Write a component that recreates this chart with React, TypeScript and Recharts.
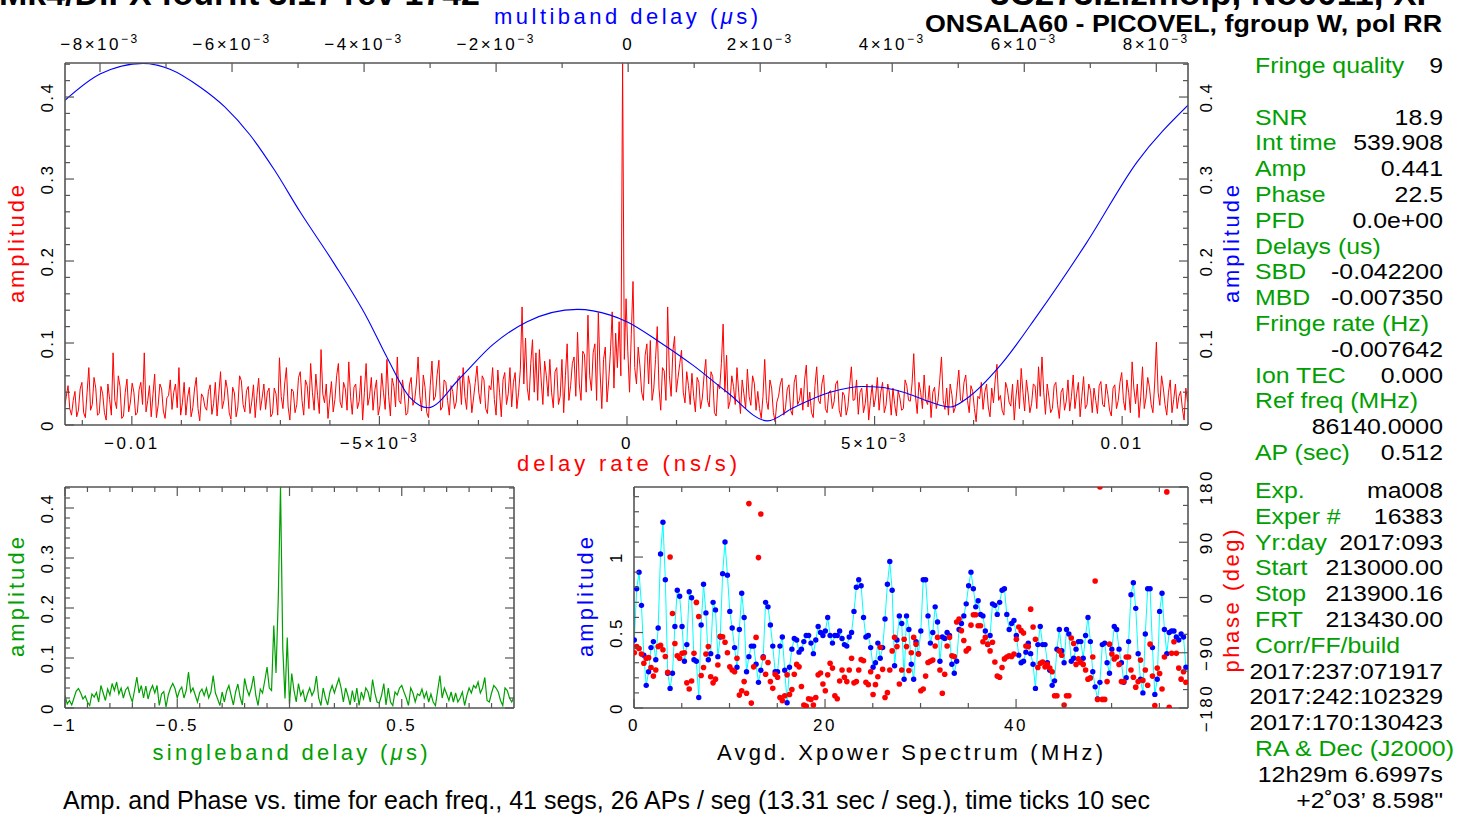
import React from "react";
import { Line, LineChart, XAxis, YAxis } from "recharts";

const FONT = "'Liberation Sans', Arial, Helvetica, sans-serif";
const RED = "#ff0000";
const BLUE = "#0000ff";
const GREEN = "#00a000";
const CYAN = "#00ffff";
const FRAME = "#555555";
const MAJOR = 9;
const MINOR = 5;

// ---- delay rate spectrum (ns/s), sampled on a uniform grid ----
const rateStart = -0.0113587;
const rateStep = 0.000035;
const rateAmp = [
  0.022, 0.035, 0.048, 0.020, 0.012, 0.030, 0.041, 0.010, 0.018, 0.044, 0.052, 0.015, 0.009, 0.040, 0.070, 0.018, 0.025, 0.058, 0.045, 0.012,
  0.014, 0.047, 0.038, 0.015, 0.006, 0.050, 0.031, 0.012, 0.088, 0.030, 0.020, 0.060, 0.047, 0.008, 0.011, 0.040, 0.056, 0.016, 0.028, 0.051,
  0.040, 0.012, 0.015, 0.043, 0.052, 0.025, 0.088, 0.016, 0.030, 0.048, 0.010, 0.037, 0.062, 0.009, 0.024, 0.050, 0.044, 0.017, 0.008, 0.033,
  0.036, 0.055, 0.019, 0.040, 0.050, 0.021, 0.070, 0.012, 0.027, 0.052, 0.012, 0.034, 0.046, 0.010, 0.021, 0.044, 0.058, 0.020, 0.005, 0.038,
  0.034, 0.022, 0.018, 0.041, 0.049, 0.013, 0.026, 0.052, 0.011, 0.038, 0.065, 0.020, 0.030, 0.055, 0.043, 0.015, 0.007, 0.046, 0.039, 0.010,
  0.022, 0.060, 0.054, 0.025, 0.016, 0.042, 0.047, 0.014, 0.028, 0.049, 0.009, 0.036, 0.057, 0.018, 0.033, 0.050, 0.019, 0.040, 0.045, 0.010,
  0.014, 0.045, 0.038, 0.012, 0.082, 0.035, 0.020, 0.050, 0.070, 0.022, 0.006, 0.044, 0.041, 0.015, 0.025, 0.058, 0.065, 0.030, 0.012, 0.055,
  0.048, 0.020, 0.075, 0.040, 0.018, 0.062, 0.036, 0.014, 0.092, 0.038, 0.027, 0.050, 0.008, 0.032, 0.053, 0.016, 0.031, 0.060, 0.075, 0.028,
  0.021, 0.052, 0.044, 0.018, 0.077, 0.035, 0.013, 0.046, 0.050, 0.020, 0.029, 0.060, 0.006, 0.040, 0.075, 0.024, 0.035, 0.058, 0.018, 0.042,
  0.055, 0.012, 0.024, 0.063, 0.040, 0.019, 0.080, 0.035, 0.011, 0.057, 0.047, 0.022, 0.083, 0.030, 0.026, 0.055, 0.038, 0.012, 0.015, 0.049,
  0.058, 0.024, 0.030, 0.050, 0.083, 0.036, 0.017, 0.061, 0.046, 0.015, 0.009, 0.048, 0.078, 0.030, 0.035, 0.062, 0.079, 0.018, 0.022, 0.055,
  0.052, 0.030, 0.012, 0.048, 0.041, 0.020, 0.028, 0.058, 0.060, 0.025, 0.070, 0.035, 0.019, 0.060, 0.049, 0.015, 0.033, 0.052, 0.072, 0.040,
  0.026, 0.060, 0.055, 0.020, 0.014, 0.048, 0.043, 0.070, 0.031, 0.012, 0.067, 0.040, 0.010, 0.055, 0.064, 0.025, 0.038, 0.070, 0.022, 0.052,
  0.064, 0.020, 0.040, 0.068, 0.144, 0.050, 0.106, 0.045, 0.030, 0.075, 0.104, 0.040, 0.088, 0.030, 0.092, 0.055, 0.025, 0.078, 0.060, 0.035,
  0.080, 0.040, 0.021, 0.065, 0.070, 0.025, 0.035, 0.080, 0.015, 0.060, 0.099, 0.030, 0.048, 0.075, 0.083, 0.035, 0.113, 0.050, 0.030, 0.090,
  0.086, 0.040, 0.134, 0.060, 0.042, 0.088, 0.099, 0.030, 0.137, 0.065, 0.020, 0.080, 0.095, 0.028, 0.055, 0.090, 0.138, 0.045, 0.112, 0.070,
  0.126, 0.060, 0.441, 0.080, 0.154, 0.090, 0.040, 0.110, 0.175, 0.070, 0.050, 0.095, 0.072, 0.040, 0.030, 0.085, 0.099, 0.050, 0.103, 0.030,
  0.045, 0.080, 0.120, 0.045, 0.018, 0.070, 0.066, 0.030, 0.144, 0.060, 0.035, 0.090, 0.108, 0.040, 0.058, 0.075, 0.091, 0.040, 0.027, 0.065,
  0.048, 0.025, 0.063, 0.035, 0.016, 0.058, 0.052, 0.020, 0.033, 0.060, 0.080, 0.030, 0.022, 0.065, 0.059, 0.015, 0.011, 0.050, 0.044, 0.075,
  0.123, 0.040, 0.085, 0.020, 0.029, 0.060, 0.047, 0.025, 0.070, 0.040, 0.014, 0.055, 0.038, 0.020, 0.068, 0.035, 0.024, 0.060, 0.051, 0.018,
  0.041, 0.020, 0.008, 0.035, 0.080, 0.030, 0.019, 0.055, 0.045, 0.015, 0.004, 0.028, 0.035, 0.050, 0.057, 0.012, 0.021, 0.044, 0.049, 0.018,
  0.012, 0.052, 0.061, 0.025, 0.030, 0.045, 0.018, 0.055, 0.073, 0.022, 0.040, 0.015, 0.009, 0.048, 0.071, 0.030, 0.026, 0.050, 0.061, 0.020,
  0.015, 0.040, 0.042, 0.020, 0.028, 0.050, 0.054, 0.018, 0.010, 0.040, 0.036, 0.012, 0.022, 0.048, 0.071, 0.030, 0.031, 0.055, 0.013, 0.040,
  0.045, 0.015, 0.026, 0.050, 0.006, 0.030, 0.049, 0.022, 0.034, 0.058, 0.018, 0.040, 0.052, 0.015, 0.024, 0.050, 0.039, 0.012, 0.045, 0.025,
  0.011, 0.042, 0.033, 0.018, 0.020, 0.055, 0.048, 0.030, 0.029, 0.050, 0.087, 0.035, 0.014, 0.052, 0.040, 0.020, 0.061, 0.030, 0.025, 0.048,
  0.009, 0.040, 0.046, 0.020, 0.030, 0.055, 0.083, 0.030, 0.019, 0.045, 0.012, 0.050, 0.037, 0.015, 0.022, 0.045, 0.067, 0.030, 0.028, 0.052,
  0.061, 0.030, 0.015, 0.048, 0.041, 0.020, 0.004, 0.035, 0.032, 0.052, 0.019, 0.040, 0.050, 0.022, 0.010, 0.045, 0.027, 0.055, 0.074, 0.030,
  0.036, 0.018, 0.012, 0.052, 0.044, 0.028, 0.023, 0.050, 0.006, 0.035, 0.055, 0.020, 0.069, 0.040, 0.017, 0.055, 0.038, 0.015, 0.026, 0.050,
  0.048, 0.020, 0.071, 0.035, 0.083, 0.040, 0.013, 0.050, 0.034, 0.015, 0.020, 0.048, 0.052, 0.025, 0.008, 0.040, 0.045, 0.018, 0.029, 0.055,
  0.017, 0.035, 0.061, 0.020, 0.038, 0.052, 0.010, 0.035, 0.059, 0.020, 0.025, 0.050, 0.042, 0.015, 0.045, 0.030, 0.014, 0.048, 0.053, 0.025,
  0.022, 0.050, 0.037, 0.018, 0.011, 0.045, 0.049, 0.020, 0.030, 0.052, 0.064, 0.030, 0.018, 0.055, 0.040, 0.015, 0.077, 0.045, 0.026, 0.050,
  0.009, 0.035, 0.071, 0.020, 0.033, 0.058, 0.046, 0.025, 0.015, 0.050, 0.101, 0.040, 0.024, 0.060, 0.045, 0.025, 0.012, 0.040, 0.055, 0.015,
  0.031, 0.050, 0.020, 0.035, 0.041, 0.020, 0.006, 0.045, 0.028,
];

// ---- multiband delay (us) ----
const mbdDelay = [
  -0.00853, -0.008, -0.00735, -0.00694, -0.00648, -0.00611, -0.00573, -0.00535, -0.00497, -0.00447,
  -0.00395, -0.00365, -0.0033, -0.00303, -0.00255, -0.00205, -0.00153, -0.00077, -0.00027, -0.00002,
  0.00048, 0.00098, 0.0015, 0.00211, 0.0025, 0.00306, 0.00356, 0.00382, 0.00417, 0.00458,
  0.00488, 0.00514, 0.00564, 0.0062, 0.00695, 0.00771, 0.00848,
];
const mbdAmp = [
  0.396, 0.428, 0.441, 0.434, 0.412, 0.388, 0.354, 0.31, 0.26, 0.199,
  0.13, 0.082, 0.033, 0.021, 0.057, 0.098, 0.126, 0.141, 0.134, 0.126,
  0.101, 0.073, 0.04, 0.005, 0.021, 0.04, 0.047, 0.046, 0.04, 0.028,
  0.022, 0.033, 0.073, 0.134, 0.223, 0.321, 0.39,
];

// ---- singleband delay (us) ----
const sbdStart = -1;
const sbdStep = 0.01;
const sbdAmp = [
  0.025, 0.008, 0.015, 0.006, 0.020, 0.034, 0.039, 0.030, 0.018, 0.024,
  0.012, 0.005, 0.028, 0.022, 0.031, 0.012, 0.045, 0.030, 0.015, 0.038,
  0.026, 0.049, 0.035, 0.052, 0.028, 0.040, 0.020, 0.036, 0.042, 0.025,
  0.012, 0.036, 0.062, 0.030, 0.045, 0.020, 0.044, 0.018, 0.035, 0.045,
  0.030, 0.045, 0.005, 0.028, 0.033, 0.002, 0.026, 0.040, 0.049, 0.039,
  0.020, 0.035, 0.042, 0.020, 0.035, 0.072, 0.032, 0.040, 0.026, 0.012,
  0.031, 0.038, 0.025, 0.040, 0.020, 0.032, 0.065, 0.030, 0.018, 0.005,
  0.032, 0.012, 0.034, 0.045, 0.025, 0.006, 0.032, 0.048, 0.022, 0.006,
  0.059, 0.038, 0.025, 0.040, 0.064, 0.025, 0.005, 0.038, 0.030, 0.055,
  0.082, 0.040, 0.035, 0.165, 0.070, 0.220, 0.442, 0.120, 0.019, 0.141,
  0.008, 0.069, 0.035, 0.012, 0.049, 0.025, 0.035, 0.012, 0.028, 0.040,
  0.025, 0.035, 0.064, 0.020, 0.005, 0.040, 0.020, 0.006, 0.032, 0.045,
  0.030, 0.045, 0.059, 0.040, 0.012, 0.040, 0.025, 0.006, 0.035, 0.012,
  0.040, 0.005, 0.032, 0.018, 0.040, 0.032, 0.012, 0.057, 0.030, 0.012,
  0.010, 0.025, 0.049, 0.006, 0.040, 0.012, 0.005, 0.032, 0.026, 0.040,
  0.045, 0.032, 0.020, 0.005, 0.040, 0.030, 0.012, 0.028, 0.025, 0.038,
  0.020, 0.032, 0.012, 0.028, 0.012, 0.005, 0.035, 0.065, 0.020, 0.040,
  0.028, 0.015, 0.032, 0.012, 0.030, 0.012, 0.020, 0.032, 0.005, 0.025,
  0.040, 0.030, 0.045, 0.040, 0.052, 0.030, 0.040, 0.061, 0.015, 0.012,
  0.030, 0.045, 0.040, 0.032, 0.015, 0.005, 0.040, 0.035, 0.020, 0.012,
  0.022,
];

// ---- averaged cross-power spectrum (MHz) ----
const freqStart = 0.03;
const freqStep = 0.25;
const xpAmp = [
  0.45, 0.79, 0.90, 0.68, 0.35, 0.15, 0.24, 0.40, 0.44, 0.32,
  0.53, 1.02, 1.23, 0.85, 0.23, 0.13, 0.23, 0.54, 0.78, 0.74,
  0.54, 0.31, 0.42, 0.77, 0.73, 0.32, 0.31, 0.07, 0.55, 0.82,
  0.63, 0.32, 0.36, 0.70, 0.65, 0.34, 0.47, 0.89, 1.10, 0.88,
  0.64, 0.53, 0.40, 0.27, 0.52, 0.76, 0.60, 0.24, 0.34, 0.41,
  0.41, 0.29, 0.17, 0.25, 0.34, 0.70, 0.67, 0.55, 0.41, 0.24,
  0.24, 0.41, 0.47, 0.25, 0.035, 0.27, 0.39, 0.46, 0.45, 0.37,
  0.39, 0.44, 0.48, 0.48, 0.43, 0.36, 0.45, 0.54, 0.50, 0.48,
  0.51, 0.60, 0.48, 0.43, 0.48, 0.48, 0.51, 0.46, 0.42, 0.41,
  0.47, 0.50, 0.64, 0.80, 0.85, 0.81, 0.60, 0.47, 0.48, 0.40,
  0.27, 0.30, 0.43, 0.33, 0.40, 0.59, 0.82, 0.97, 0.78, 0.28,
  0.45, 0.61, 0.56, 0.19,
  0.61, 0.52, 0.29, 0.19, 0.44, 0.36, 0.51, 0.85, 0.85, 0.61,
  0.43, 0.50, 0.67, 0.57, 0.31, 0.47, 0.46, 0.50, 0.48, 0.29,
  0.23, 0.31, 0.52, 0.56, 0.61, 0.69, 0.81, 0.90, 0.79, 0.67,
  0.71, 0.62, 0.61, 0.51, 0.42, 0.48, 0.69, 0.68, 0.62, 0.70,
  0.78, 0.79, 0.62, 0.52, 0.56, 0.58, 0.48, 0.35, 0.30, 0.31,
  0.37, 0.43, 0.36, 0.29, 0.13, 0.42, 0.54, 0.42, 0.42, 0.30,
  0.25, 0.15, 0.18, 0.39, 0.52, 0.38, 0.30, 0.52, 0.49, 0.31,
  0.33, 0.39, 0.44, 0.44, 0.33, 0.48, 0.60, 0.44, 0.24, 0.14,
  0.06, 0.17, 0.42, 0.43, 0.30, 0.23, 0.39, 0.54, 0.52, 0.39,
  0.30, 0.17, 0.20, 0.44, 0.75, 0.83, 0.66, 0.36, 0.19, 0.10,
  0.49, 0.79, 0.79, 0.40, 0.09, 0.19, 0.64, 0.76, 0.52, 0.36,
  0.50, 0.51, 0.51, 0.47, 0.45, 0.49, 0.47, 0.27,
];
const xpPhase = [
  -90, -80, -83, -92, -107, -99, -98, -114, -128, -118,
  -80, -78, -85, -96, -122, 66, -26, -75, -95, -99,
  -91, -90, -139, -149, -136, -91, -8, -31, -127, -114,
  -92, -80, -129, -139, -133, -110, -63, -64, -73, -90,
  -113, -118, -121, -99, -159, -152, -137, -156, 153, -172,
  -113, -65, 65, 136, -98, -125, -106, -137, -148, -125,
  -130, -163, -168, -160, -126, -158, -150, -125, -109, -113,
  -145, -175, -177, -165, -166, -175, -163, -126, -123, -141,
  -152, -126, -107, -115, -160, -165, -136, -118, -130, -137,
  -118, -99, -139, -137, -118, -101, -103, -138, -142, -121,
  -158, -142, -129, -81, -117, -163, -155, -118, -87, -65,
  -80, -141, -118, -68,
  -80, -119, -90, -65, -76, -92, -152, -149, -128, -106,
  -104, -102, -79, -65, -118, -156, -125, -79, -65, -95,
  -96, -40, -35, -54, -70, -87, -83, -45, -28, -28,
  -46, -46, -72, -65, -76, -87, -73, -105, -128, -130,
  -114, -100, -97, -95, -96, -92, -68, -48, -54, -58,
  -79, -80, -19, -48, -68, -114, -107, -105, -113, -109,
  -115, -121, -160, -160, -87, -94, -175, -160, -160, -66,
  -75, -109, -100, -106, -109, -118, -133, -131, -97, 27,
  -166, 180, -166, -166, -137, -76, -92, -100, -97, -109,
  -137, -137, -97, -97, -118, -130, -146, -137, -102, -135,
  -118, -143, -76, -128, -176, -115, -124, -149, -97, 172,
  -179, -91, -72, -91, -115, -133, -121, -138,
];

// ---- axis ticks ----
const rateTicks = [-0.011, -0.01, -0.009, -0.008, -0.007, -0.006, -0.005, -0.004, -0.003, -0.002, -0.001, 0, 0.001, 0.002, 0.003, 0.004, 0.005, 0.006, 0.007, 0.008, 0.009, 0.01, 0.011];
const rateMajor = [-0.01, -0.005, 0, 0.005, 0.01];
const mbdTicks = [-0.008, -0.007, -0.006, -0.005, -0.004, -0.003, -0.002, -0.001, 0, 0.001, 0.002, 0.003, 0.004, 0.005, 0.006, 0.007, 0.008];
const mbdMajor = [-0.008, -0.006, -0.004, -0.002, 0, 0.002, 0.004, 0.006, 0.008];
const ampTicks = [0, 0.02, 0.04, 0.06, 0.08, 0.1, 0.12, 0.14, 0.16, 0.18, 0.2, 0.22, 0.24, 0.26, 0.28, 0.3, 0.32, 0.34, 0.36, 0.38, 0.4, 0.42, 0.44];
const ampMajor = [0, 0.1, 0.2, 0.3, 0.4];
const sbdTicks = [-1, -0.9, -0.8, -0.7, -0.6, -0.5, -0.4, -0.3, -0.2, -0.1, 0, 0.1, 0.2, 0.3, 0.4, 0.5, 0.6, 0.7, 0.8, 0.9];
const sbdMajor = [-1, -0.5, 0, 0.5];
const freqTicks = [0, 5, 10, 15, 20, 25, 30, 35, 40, 45, 50, 55];
const freqMajor = [0, 20, 40];
const xpAmpTicks = [0, 0.1, 0.2, 0.3, 0.4, 0.5, 0.6, 0.7, 0.8, 0.9, 1, 1.1, 1.2, 1.3, 1.4];
const xpAmpMajor = [0, 0.5, 1];
const phaseTicks = [-180, -150, -120, -90, -60, -30, 0, 30, 60, 90, 120, 150, 180];
const phaseMajor = [-180, -90, 0, 90, 180];

const rateData = rateAmp.map((amp, i) => ({ x: rateStart + i * rateStep, amp }));
const mbdData = mbdDelay.map((x, i) => ({ x, amp: mbdAmp[i] }));
const sbdData = sbdAmp.map((amp, i) => ({ x: sbdStart + i * sbdStep, amp }));
const xpData = xpAmp.map((amp, i) => ({ f: freqStart + i * freqStep, amp, phase: xpPhase[i] }));

const infoTop = [
  ["Fringe quality", "9"], ["", ""], ["SNR", "18.9"], ["Int time", "539.908"], ["Amp", "0.441"],
  ["Phase", "22.5"], ["PFD", "0.0e+00"], ["Delays (us)", ""], ["SBD", "-0.042200"], ["MBD", "-0.007350"],
  ["Fringe rate (Hz)", ""], ["", "-0.007642"], ["Ion TEC", "0.000"], ["Ref freq (MHz)", ""], ["", "86140.0000"],
  ["AP (sec)", "0.512"],
];
const infoBottom = [
  ["Exp.", "ma008"], ["Exper #", "16383"], ["Yr:day", "2017:093"], ["Start", "213000.00"], ["Stop", "213900.16"],
  ["FRT", "213430.00"], ["Corr/FF/build", ""], ["", "2017:237:071917"], ["", "2017:242:102329"], ["", "2017:170:130423"],
  ["RA & Dec (J2000)", ""], ["", "12h29m 6.6997s"], ["", "+2\u02da03\u2019 8.598\""],
];

const tickText = { fontFamily: FONT, fontSize: 17, letterSpacing: 2.5, fill: "#000" };
const frameLine = { stroke: FRAME, strokeWidth: 1.6 };
const noMargin = { top: 0, right: 0, bottom: 0, left: 0 };

const plain = (v: number) => (v < 0 ? "\u2212" : "") + String(Math.abs(Number(v.toFixed(4))));
const sci = (v: number) => {
  if (Math.abs(v) < 1e-12) return "0";
  const m = Math.round(v * 1000);
  if (Math.abs(m) === 10) return plain(v);
  return (
    <>
      {(m < 0 ? "\u2212" : "") + Math.abs(m) + "\u00d710"}
      <tspan dy={-7} fontSize={12}>{"\u22123"}</tspan>
    </>
  );
};

type Side = "top" | "bottom" | "left" | "right";

function ticker(side: Side, majors: number[], fmt?: (v: number) => React.ReactNode, gap = 0) {
  return (props: any) => {
    const { x, y, payload } = props;
    const v = Number(payload.value);
    const isMajor = majors.some((m) => Math.abs(m - v) < 1e-9);
    const len = isMajor ? MAJOR : MINOR;
    const label = isMajor && fmt ? fmt(v) : null;
    if (side === "bottom" || side === "top") {
      const d = side === "bottom" ? -1 : 1;
      const ty = side === "bottom" ? y + gap : y - gap;
      return (
        <g>
          <line x1={x} x2={x} y1={y} y2={y + d * len} stroke={FRAME} strokeWidth={1.2} />
          {label !== null && (
            <text x={x} y={ty} textAnchor="middle" {...tickText}>
              {label}
            </text>
          )}
        </g>
      );
    }
    const d = side === "left" ? 1 : -1;
    const tx = side === "left" ? x - gap : x + gap;
    return (
      <g>
        <line x1={x} x2={x + d * len} y1={y} y2={y} stroke={FRAME} strokeWidth={1.2} />
        {label !== null && (
          <text x={tx} y={y} transform={`rotate(-90 ${tx} ${y})`} textAnchor="middle" {...tickText}>
            {label}
          </text>
        )}
      </g>
    );
  };
}

const axisBase = {
  type: "number" as const,
  allowDataOverflow: true,
  interval: 0 as const,
  tickSize: 0,
  tickMargin: 0,
  tickLine: false,
  axisLine: frameLine,
};

function DelayRatePanel() {
  return (
    <LineChart width={1240} height={480} margin={noMargin}>
      <XAxis {...axisBase} xAxisId="rate" dataKey="x" orientation="bottom" domain={[-0.01135, 0.01133]}
        ticks={rateTicks} height={55} tick={ticker("bottom", rateMajor, sci, 24)} />
      <XAxis {...axisBase} xAxisId="mbd" dataKey="x" orientation="top" domain={[-0.00853, 0.00848]}
        ticks={mbdTicks} height={63} tick={ticker("top", mbdMajor, sci, 13)} />
      <YAxis {...axisBase} yAxisId="amp" domain={[0, 0.4415]} ticks={ampTicks} width={65}
        tick={ticker("left", ampMajor, plain, 12)} />
      <YAxis {...axisBase} yAxisId="ampR" orientation="right" domain={[0, 0.4415]} ticks={ampTicks} width={52}
        tick={ticker("right", ampMajor, plain, 24)} />
      <Line xAxisId="rate" yAxisId="amp" data={rateData} dataKey="amp" type="linear" stroke={RED}
        strokeWidth={1} dot={false} activeDot={false} isAnimationActive={false} />
      <Line xAxisId="mbd" yAxisId="ampR" data={mbdData} dataKey="amp" type="monotone" stroke={BLUE}
        strokeWidth={1.1} dot={false} activeDot={false} isAnimationActive={false} />
    </LineChart>
  );
}

function SingleBandPanel() {
  return (
    <LineChart width={560} height={300} margin={noMargin}>
      <XAxis {...axisBase} xAxisId="b" dataKey="x" orientation="bottom" domain={[-1, 1]} ticks={sbdTicks}
        height={62} tick={ticker("bottom", sbdMajor, plain, 23)} />
      <XAxis {...axisBase} xAxisId="t" dataKey="x" orientation="top" domain={[-1, 1]} ticks={sbdTicks}
        height={17} tick={ticker("top", sbdMajor)} />
      <YAxis {...axisBase} yAxisId="l" domain={[0, 0.442]} ticks={ampTicks} width={65}
        tick={ticker("left", ampMajor, plain, 12)} />
      <YAxis {...axisBase} yAxisId="r" orientation="right" domain={[0, 0.442]} ticks={ampTicks} width={46}
        tick={ticker("right", ampMajor)} />
      <Line xAxisId="b" yAxisId="l" data={sbdData} dataKey="amp" type="linear" stroke={GREEN}
        strokeWidth={1.2} dot={false} activeDot={false} isAnimationActive={false} />
    </LineChart>
  );
}

function XpowerPanel() {
  return (
    <LineChart width={690} height={300} margin={noMargin} data={xpData}>
      <XAxis {...axisBase} xAxisId="b" dataKey="f" orientation="bottom" domain={[0, 58]} ticks={freqTicks}
        height={62} tick={ticker("bottom", freqMajor, plain, 23)} />
      <XAxis {...axisBase} xAxisId="t" dataKey="f" orientation="top" domain={[0, 58]} ticks={freqTicks}
        height={17} tick={ticker("top", freqMajor)} />
      <YAxis {...axisBase} yAxisId="amp" domain={[0, 1.464]} ticks={xpAmpTicks} width={74}
        tick={ticker("left", xpAmpMajor, plain, 12)} />
      <YAxis {...axisBase} yAxisId="ph" orientation="right" domain={[-180, 180]} ticks={phaseTicks} width={62}
        tick={ticker("right", phaseMajor, plain, 24)} />
      <Line xAxisId="b" yAxisId="amp" dataKey="amp" type="linear" stroke={CYAN} strokeWidth={1}
        dot={{ r: 2.7, fill: BLUE, stroke: "none" }} activeDot={false} isAnimationActive={false} />
      <Line xAxisId="b" yAxisId="ph" dataKey="phase" type="linear" stroke="none"
        dot={{ r: 2.8, fill: RED, stroke: "none" }} activeDot={false} isAnimationActive={false} />
    </LineChart>
  );
}

function VTitle({ x, y, len, color, children }: { x: number; y: number; len: number; color: string; children: React.ReactNode }) {
  return (
    <text x={x} y={y} transform={`rotate(-90 ${x} ${y})`} textAnchor="middle" fontFamily={FONT} fontSize={22}
      fill={color} textLength={len} lengthAdjust="spacing">
      {children}
    </text>
  );
}

function HTitle({ x, y, len, color, children }: { x: number; y: number; len: number; color: string; children: React.ReactNode }) {
  return (
    <text x={x} y={y} textAnchor="middle" fontFamily={FONT} fontSize={22} fill={color} textLength={len} lengthAdjust="spacing">
      {children}
    </text>
  );
}

function InfoBlock({ rows, y0 }: { rows: string[][]; y0: number }) {
  const valueX = (1443 - 1255) / 1.13;
  return (
    <g transform="translate(1255 0) scale(1.13 1)" fontFamily={FONT} fontSize={22}>
      {rows.map(([label, value], i) => (
        <g key={i}>
          {label && <text x={0} y={y0 + i * 25.8} fill={GREEN}>{label}</text>}
          {value && <text x={valueX} y={y0 + i * 25.8} fill="#000" textAnchor="end">{value}</text>}
        </g>
      ))}
    </g>
  );
}

export default function App() {
  const mu = <tspan fontStyle="italic">{"\u03bc"}</tspan>;
  return (
    <div style={{ position: "absolute", left: 0, top: 0, width: 1470, height: 818, background: "#fff", overflow: "hidden" }}>
      <div style={{ position: "absolute", left: 0, top: 0 }}>
        <DelayRatePanel />
      </div>
      <div style={{ position: "absolute", left: 0, top: 470 }}>
        <SingleBandPanel />
      </div>
      <div style={{ position: "absolute", left: 560, top: 470 }}>
        <XpowerPanel />
      </div>
      <svg width={1470} height={818} style={{ position: "absolute", left: 0, top: 0, pointerEvents: "none" }}>
        <g fontFamily={FONT} fontWeight="bold" fill="#000">
          <text x={-1} y={5} fontSize={34} textLength={481} lengthAdjust="spacingAndGlyphs">Mk4/DiFX fourfit 3.17 rev 1742</text>
          <text x={990} y={5} fontSize={34} textLength={450} lengthAdjust="spacingAndGlyphs">3C273.zlzmolp, No0011, XP</text>
          <text x={925} y={32} fontSize={23} textLength={517} lengthAdjust="spacingAndGlyphs">ONSALA60 - PICOVEL, fgroup W, pol RR</text>
        </g>
        <HTitle x={626} y={24} len={264} color={BLUE}>multiband delay ({mu}s)</HTitle>
        <HTitle x={627} y={471} len={220} color={RED}>delay rate (ns/s)</HTitle>
        <VTitle x={24} y={244} len={118} color={RED}>amplitude</VTitle>
        <VTitle x={1239} y={244} len={118} color={BLUE}>amplitude</VTitle>
        <VTitle x={24} y={597} len={120} color={GREEN}>amplitude</VTitle>
        <HTitle x={290} y={760} len={275} color={GREEN}>singleband delay ({mu}s)</HTitle>
        <VTitle x={593} y={597} len={120} color={BLUE}>amplitude</VTitle>
        <VTitle x={1239} y={601} len={143} color={RED}>phase (deg)</VTitle>
        <HTitle x={910} y={760} len={386} color="#000">Avgd. Xpower Spectrum (MHz)</HTitle>
        <InfoBlock rows={infoTop} y0={73} />
        <InfoBlock rows={infoBottom} y0={498} />
        <text x={63} y={809} fontFamily={FONT} fontSize={25} fill="#000" textLength={1087} lengthAdjust="spacingAndGlyphs">
          Amp. and Phase vs. time for each freq., 41 segs, 26 APs / seg (13.31 sec / seg.), time ticks 10 sec
        </text>
      </svg>
    </div>
  );
}
